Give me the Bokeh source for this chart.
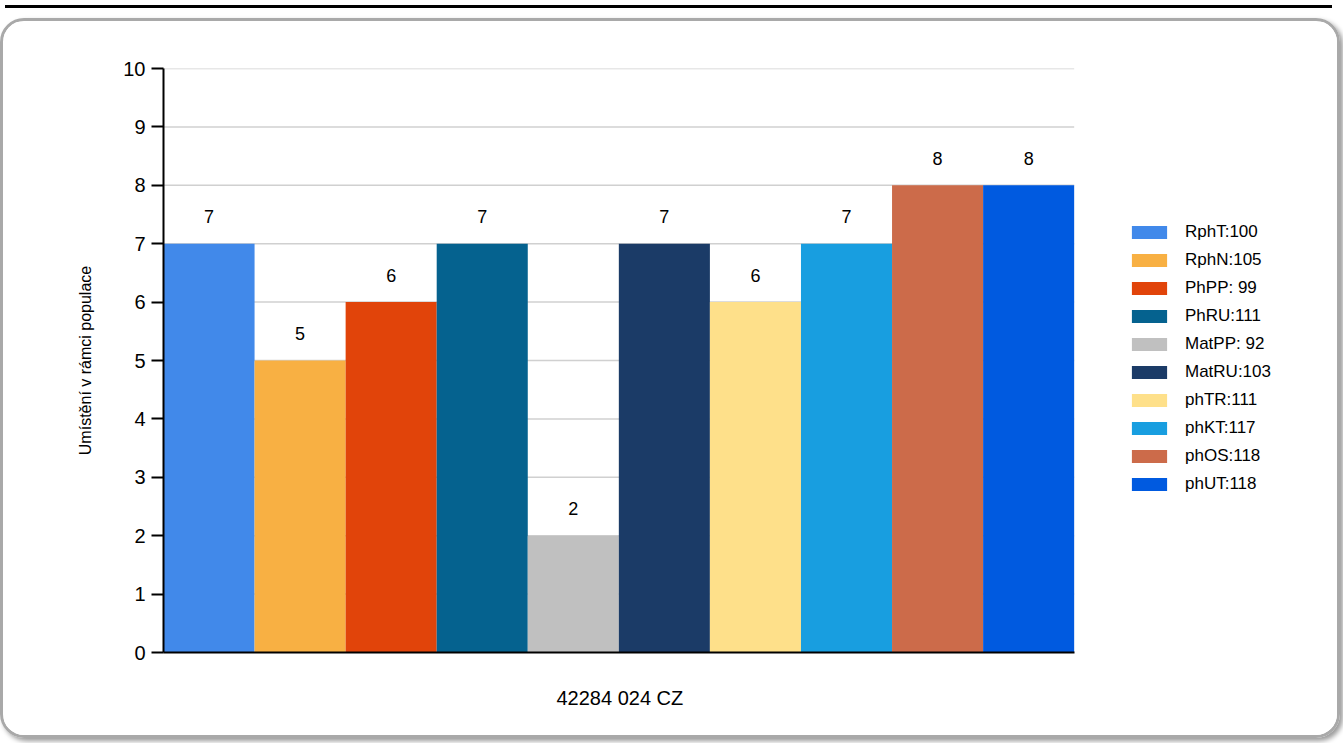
from bokeh.plotting import figure
from bokeh.models import (ColumnDataSource, Range1d, FixedTicker, Legend, LegendItem, Div, Column, Title)
from bokeh.embed import file_html
from bokeh.resources import INLINE

# ---- data ----
categories = ["RphT", "RphN", "PhPP", "PhRU", "MatPP", "MatRU", "phTR", "phKT", "phOS", "phUT"]
scores = [100, 105, 99, 111, 92, 103, 111, 117, 118, 118]
legend_labels = ["RphT:100", "RphN:105", "PhPP: 99", "PhRU:111", "MatPP: 92",
                 "MatRU:103", "phTR:111", "phKT:117", "phOS:118", "phUT:118"]
values = [7, 5, 6, 7, 2, 7, 6, 7, 8, 8]
colors = ["#4189EA", "#F8B043", "#E1440A", "#05628F", "#C0C0C0",
          "#1B3B67", "#FEE08A", "#189EE0", "#CC6B4A", "#005AE0"]
y_ticks = [0, 1, 2, 3, 4, 5, 6, 7, 8, 9, 10]
x_title = "42284 024 CZ"
y_title = "Umístění v rámci populace"

FONT = "Liberation Sans"

BAR_AREA_W = 906     # pixels used by the bars
FRAME_W = 1164       # frame extends right to hold the legend
n = len(categories)
x_end = n * FRAME_W / BAR_AREA_W

p = figure(frame_width=FRAME_W, frame_height=578, output_backend="svg", toolbar_location=None,
           x_range=Range1d(0, x_end), y_range=Range1d(0, 10),
           min_border_left=160, min_border_right=10, min_border_top=47, min_border_bottom=89)
p.outline_line_color = None
p.background_fill_color = "white"
p.border_fill_color = "white"
p.styles = {"border": "3px solid #a9a9a9", "border-radius": "24px",
            "box-shadow": "3px 3px 5px #9a9a9a",
            "overflow": "hidden"}

# horizontal grid lines limited to the bar area
grid_src = ColumnDataSource(dict(x0=[0] * len(y_ticks), x1=[n] * len(y_ticks), y=y_ticks))
p.segment(x0="x0", x1="x1", y0="y", y1="y", source=grid_src,
          line_color="#d0d0d0", line_width=1.5, level="underlay")

xs = [i + 0.5 for i in range(n)]
src = ColumnDataSource(dict(x=xs, top=values, txt=[str(v) for v in values]))

renderers = []
for i in range(n):
    s = ColumnDataSource(dict(x=[xs[i]], top=[values[i]]))
    r = p.vbar(x="x", top="top", width=1.0, source=s, fill_color=colors[i], line_color=None)
    renderers.append(r)

p.text(x="x", y="top", text="txt", source=src, text_align="center", text_baseline="middle",
       y_offset=-27, text_font_size="18px", text_color="black", text_font={"value": FONT})

# axes
p.xgrid.grid_line_color = None
p.ygrid.grid_line_color = None

p.yaxis.ticker = FixedTicker(ticks=y_ticks)
p.yaxis.axis_line_color = "black"
p.yaxis.axis_line_width = 2
p.yaxis.major_tick_line_width = 2
p.yaxis.major_tick_out = 12
p.yaxis.major_tick_in = 0
p.yaxis.minor_tick_line_color = None
p.yaxis.major_label_text_font_size = "20px"
p.yaxis.major_label_text_font = FONT
p.yaxis.major_label_text_color = "black"
p.yaxis.major_label_standoff = 6
p.yaxis.axis_label = y_title
p.yaxis.axis_label_text_font = FONT
p.yaxis.axis_label_text_font_size = "16px"
p.yaxis.axis_label_text_font_style = "normal"
p.yaxis.axis_label_text_color = "black"
p.yaxis.axis_label_standoff = 26

p.xaxis.ticker = FixedTicker(ticks=[])
p.xaxis.bounds = (0, n)
p.xaxis.axis_line_color = "black"
p.xaxis.axis_line_width = 2
p.xaxis.major_tick_line_color = None
p.xaxis.minor_tick_line_color = None
p.xaxis.axis_label = None

# x title centred under the bars
p.add_layout(Title(text=x_title, align="left", offset=393, standoff=64,
                   text_font=FONT, text_font_size="20px", text_font_style="normal",
                   text_color="black"), "below")

items = [LegendItem(label=legend_labels[i], renderers=[renderers[i]]) for i in range(n)]
legend = Legend(items=items, location=(964, 158), margin=0, padding=10,
                label_text_font=FONT, label_text_font_size="17px", label_text_color="black",
                glyph_width=44, glyph_height=16, label_height=20,
                spacing=8, label_standoff=14,
                border_line_color=None, background_fill_alpha=0)
p.add_layout(legend)

topline = Div(text="", width=1327, height=3, styles={"background-color": "black"})
layout = Column(topline, p, spacing=5)

open("out.html", "w").write(file_html(layout, INLINE))
